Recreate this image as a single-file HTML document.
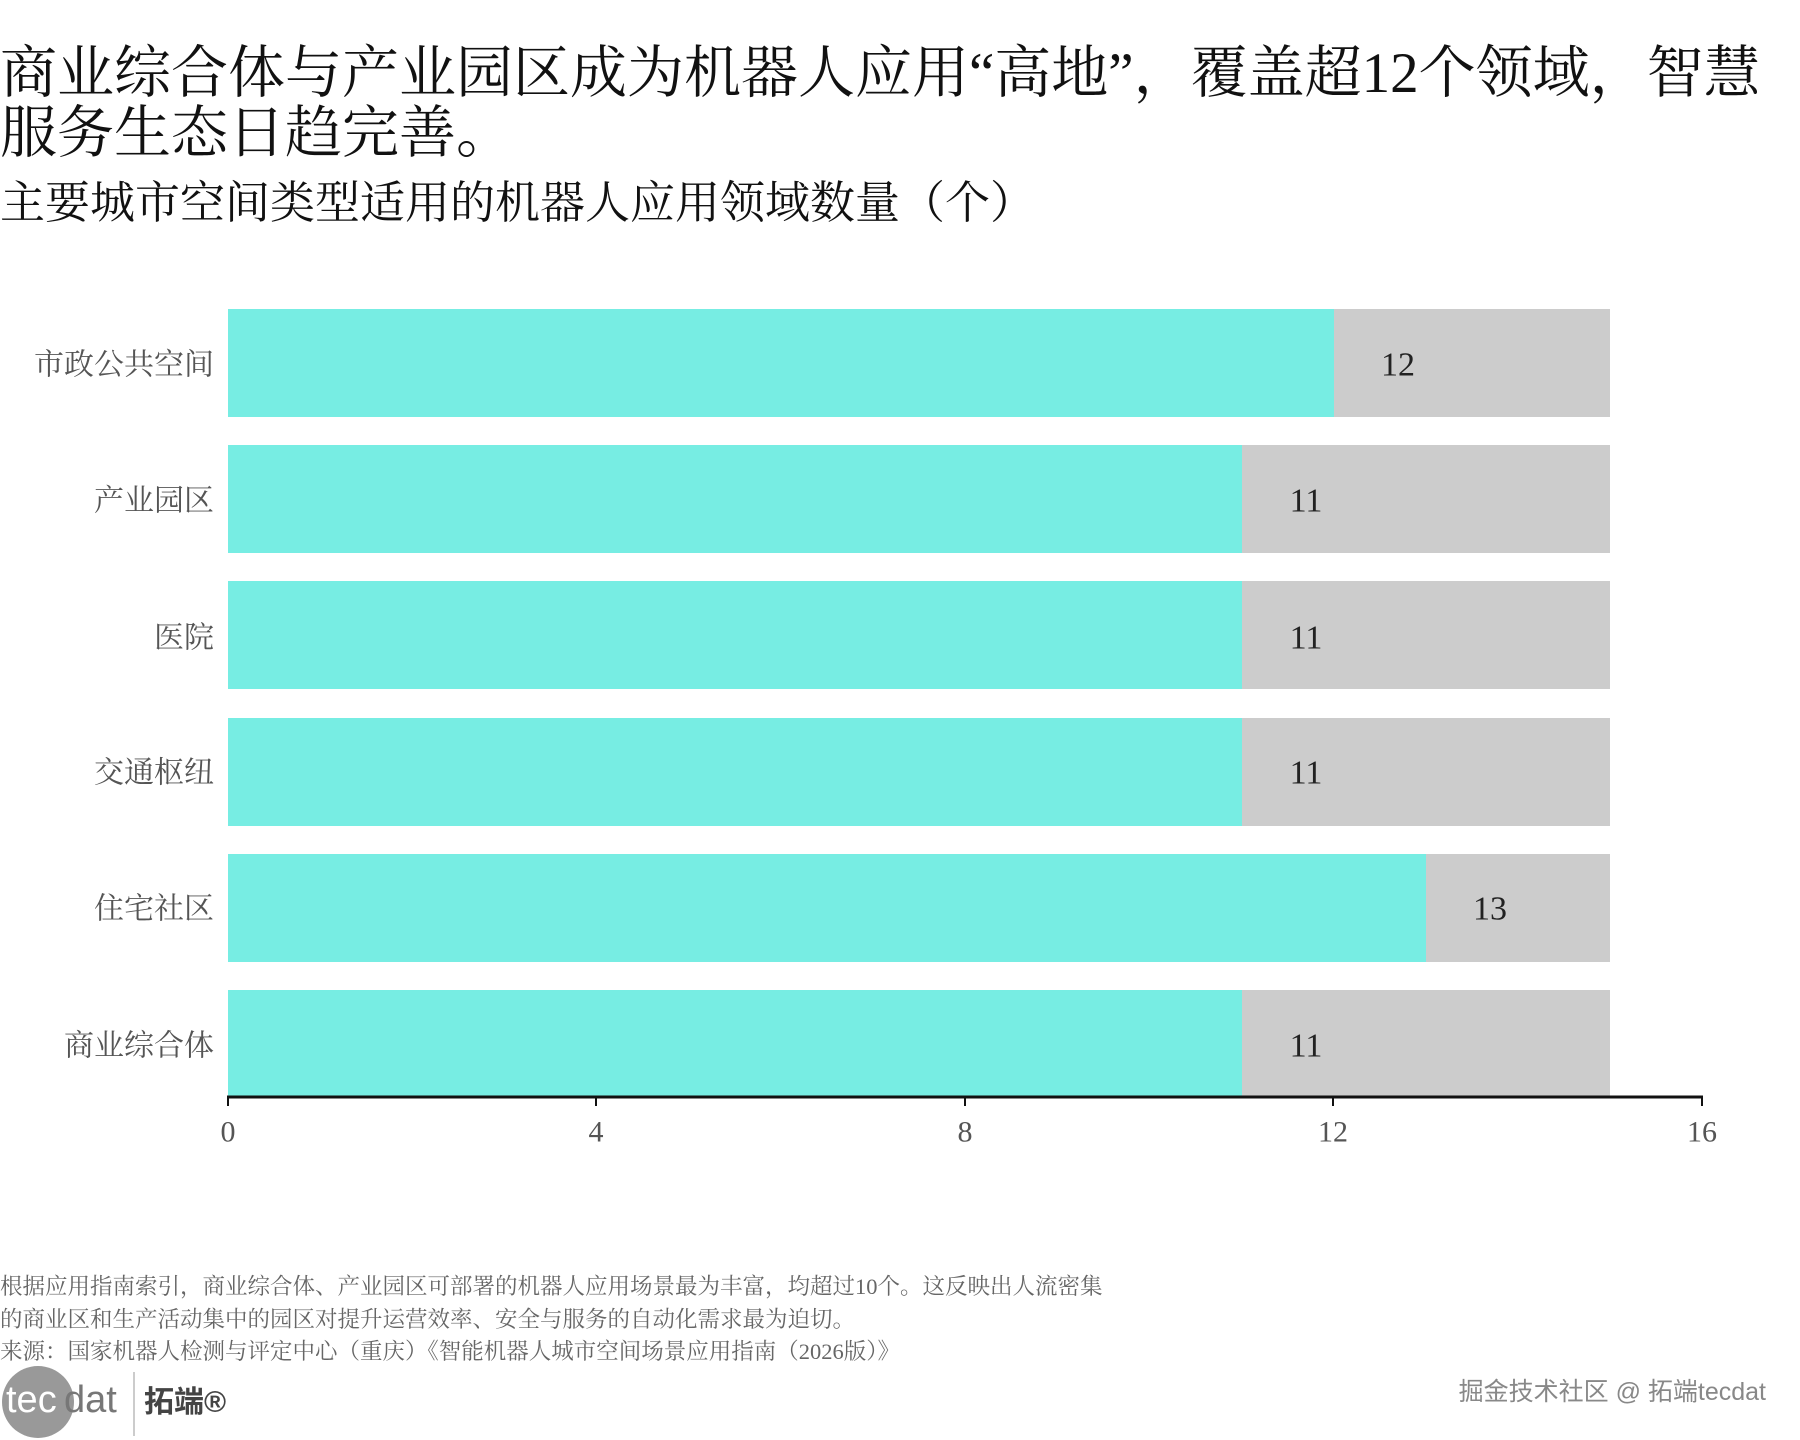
<!DOCTYPE html>
<html><head><meta charset="utf-8"><style>
html,body{margin:0;padding:0;background:#fff;width:1800px;height:1440px;overflow:hidden}
svg{display:block}
text{font-family:"Liberation Serif","Noto Serif CJK SC",serif}
</style></head><body>
<svg width="1800" height="1440" viewBox="0 0 1800 1440" xmlns="http://www.w3.org/2000/svg">
<text x="0" y="92" font-size="57" fill="#111">商业综合体与产业园区成为机器人应用“高地”，覆盖超12个领域，智慧</text>
<text x="0" y="152" font-size="57" fill="#111">服务生态日趋完善。</text>
<text x="0" y="218" font-size="45" fill="#111">主要城市空间类型适用的机器人应用领域数量（个）</text>
<g>
<rect x="228" y="309" width="1382" height="108" fill="#cccccc"/><rect x="228" y="309" width="1106" height="108" fill="#77ede3"/>
<rect x="228" y="445" width="1382" height="108" fill="#cccccc"/><rect x="228" y="445" width="1014" height="108" fill="#77ede3"/>
<rect x="228" y="581" width="1382" height="108" fill="#cccccc"/><rect x="228" y="581" width="1014" height="108" fill="#77ede3"/>
<rect x="228" y="718" width="1382" height="108" fill="#cccccc"/><rect x="228" y="718" width="1014" height="108" fill="#77ede3"/>
<rect x="228" y="854" width="1382" height="108" fill="#cccccc"/><rect x="228" y="854" width="1198" height="108" fill="#77ede3"/>
<rect x="228" y="990" width="1382" height="107" fill="#cccccc"/><rect x="228" y="990" width="1014" height="107" fill="#77ede3"/>
</g>
<g font-size="34" fill="#222" text-anchor="middle" dominant-baseline="central">
<text x="1398" y="365">12</text><text x="1306" y="501">11</text><text x="1306" y="638">11</text>
<text x="1306" y="773">11</text><text x="1490" y="909">13</text><text x="1306" y="1046">11</text>
</g>
<g font-size="30" fill="#555" text-anchor="end" dominant-baseline="central">
<text x="214" y="365">市政公共空间</text><text x="214" y="501">产业园区</text><text x="214" y="638">医院</text>
<text x="214" y="773">交通枢纽</text><text x="214" y="909">住宅社区</text><text x="214" y="1046">商业综合体</text>
</g>
<line x1="227" y1="1097" x2="1703" y2="1097" stroke="#111" stroke-width="3"/>
<g stroke="#111" stroke-width="2">
<line x1="228" y1="1097" x2="228" y2="1106"/><line x1="596" y1="1097" x2="596" y2="1106"/><line x1="965" y1="1097" x2="965" y2="1106"/><line x1="1333" y1="1097" x2="1333" y2="1106"/><line x1="1702" y1="1097" x2="1702" y2="1106"/>
</g>
<g font-size="30" fill="#555" text-anchor="middle" dominant-baseline="central">
<text x="228" y="1132">0</text><text x="596" y="1132">4</text><text x="965" y="1132">8</text><text x="1333" y="1132">12</text><text x="1702" y="1132">16</text>
</g>
<g font-size="22.5" fill="#666">
<text x="0" y="1294">根据应用指南索引，商业综合体、产业园区可部署的机器人应用场景最为丰富，均超过10个。这反映出人流密集</text>
<text x="0" y="1327">的商业区和生产活动集中的园区对提升运营效率、安全与服务的自动化需求最为迫切。</text>
<text x="0" y="1359">来源：国家机器人检测与评定中心（重庆）《智能机器人城市空间场景应用指南（2026版）》</text>
</g>
<circle cx="38" cy="1402" r="36" fill="#999"/>
<text x="6" y="1412" font-size="38" fill="#fff" style="font-family:'Liberation Sans',sans-serif">tec</text>
<text x="64" y="1412" font-size="38" fill="#777" style="font-family:'Liberation Sans',sans-serif">dat</text>
<line x1="134" y1="1372" x2="134" y2="1436" stroke="#ccc" stroke-width="2"/>
<text x="144" y="1412" font-size="30" fill="#444" font-weight="bold" style="font-family:'Liberation Sans','Noto Sans CJK SC',sans-serif">拓端®</text>
<text x="1766" y="1400" font-size="25" fill="#888" text-anchor="end" style="font-family:'Liberation Sans','Noto Sans CJK SC',sans-serif">掘金技术社区 @ 拓端tecdat</text>
</svg>
</body></html>
